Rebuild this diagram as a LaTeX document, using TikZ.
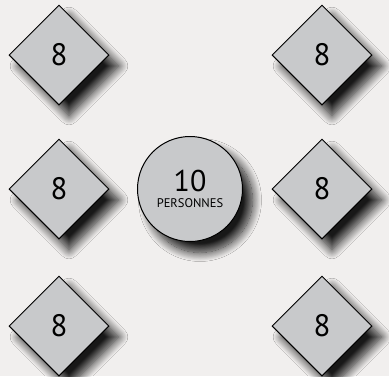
\documentclass[tikz,border=0pt]{standalone}
\usepackage{fontspec}
\setmainfont{PT Sans}
\usetikzlibrary{shapes.geometric,shadows.blur}
\definecolor{bg}{HTML}{F1EFEE}
\definecolor{tablefill}{HTML}{C8C9CB}
\tikzset{
  sh/.style={blur shadow={shadow xshift=10pt, shadow yshift=-11pt, shadow blur radius=9pt, shadow opacity=90, shadow blur steps=16}},
  sqtable/.style={diamond, aspect=1, draw=black, line width=1pt, fill=tablefill, minimum width=100pt, minimum height=100pt, inner sep=0pt, sh, font=\fontsize{31}{31}\selectfont},
  rdtable/.style={circle, draw=black, line width=1pt, fill=tablefill, minimum size=105pt, inner sep=0pt, sh, align=center, font=\fontsize{12.5}{16}\selectfont}
}
\begin{document}
\begin{tikzpicture}[x=1pt,y=-1pt]
\fill[bg] (0,0) rectangle (389,376);
\useasboundingbox (0,0) rectangle (389,376);
\node[sqtable] (t1) at (59,55) {8};
\node[sqtable] (t2) at (322,55) {8};
\node[sqtable] (t3) at (59,189) {8};
\node[sqtable] (t4) at (322,189) {8};
\node[sqtable] (t5) at (59,326) {8};
\node[sqtable] (t6) at (322,326) {8};
\node[rdtable] (c) at (190,189) {{\fontsize{30}{30}\selectfont 10}\\PERSONNES};
\end{tikzpicture}
\end{document}
